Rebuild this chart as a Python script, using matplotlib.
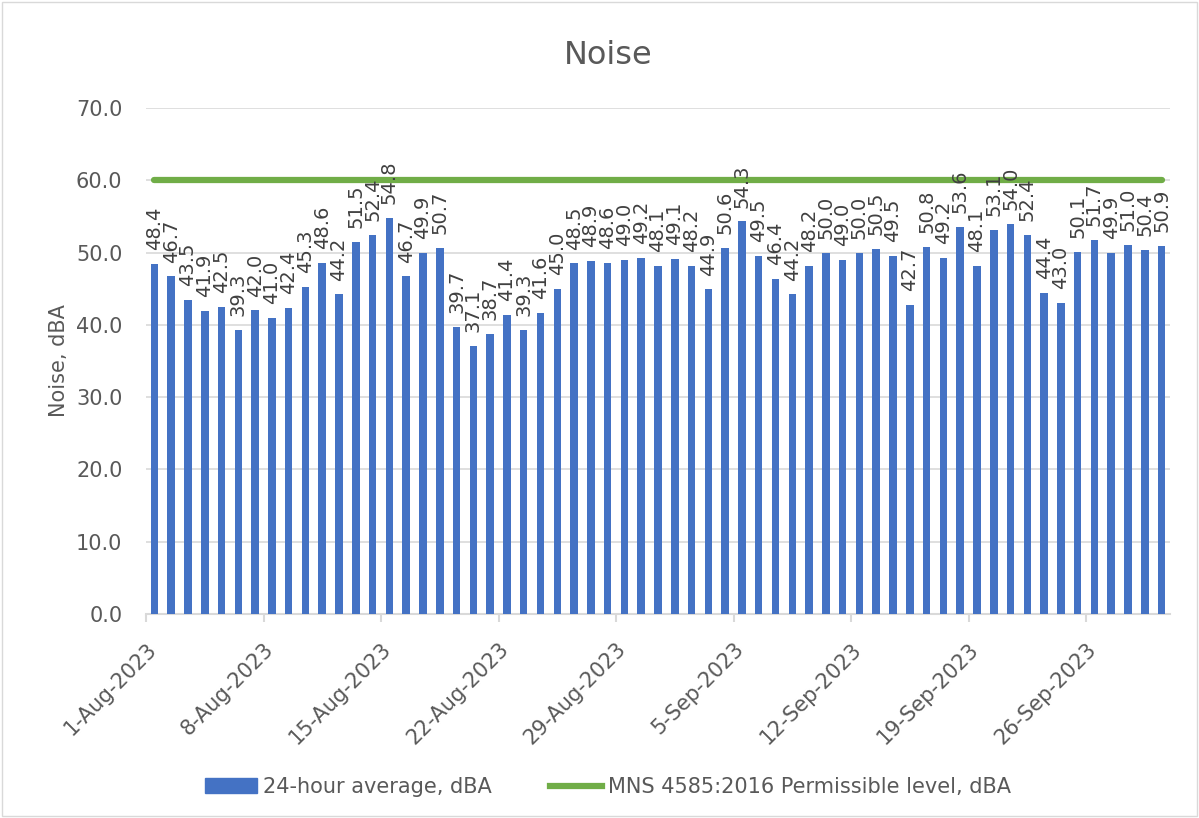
import matplotlib
matplotlib.use("Agg")
import matplotlib.pyplot as plt
import numpy as np
from matplotlib.patches import Rectangle
from matplotlib.lines import Line2D
from matplotlib.patches import Patch

aug_values = [48.4, 46.7, 43.5, 41.9, 42.5, 39.3, 42.0, 41.0, 42.4, 45.3,
              48.6, 44.2, 51.5, 52.4, 54.8, 46.7, 49.9, 50.7, 39.7, 37.1,
              38.7, 41.4, 39.3, 41.6, 45.0, 48.5, 48.9, 48.6, 49.0, 49.2, 48.1]
sep_values = [49.1, 48.2, 44.9, 50.6, 54.3, 49.5, 46.4, 44.2, 48.2, 50.0,
              49.0, 50.0, 50.5, 49.5, 42.7, 50.8, 49.2, 53.6, 48.1, 53.1,
              54.0, 52.4, 44.4, 43.0, 50.1, 51.7, 49.9, 51.0, 50.4, 50.9]
values = aug_values + sep_values
permissible = 60.0
tick_labels = ["1-Aug-2023", "8-Aug-2023", "15-Aug-2023", "22-Aug-2023",
               "29-Aug-2023", "5-Sep-2023", "12-Sep-2023", "19-Sep-2023",
               "26-Sep-2023"]
yticks = [0, 10, 20, 30, 40, 50, 60, 70]

bar_color = "#4472C4"
line_color = "#70AD47"
text_color = "#595959"

fig = plt.figure(figsize=(11.99, 8.18), dpi=100)
ax = fig.add_axes([146/1199, 1-614/818, (1170-146)/1199, (614-108)/818])

n = len(values)
x = np.arange(n) + 0.5
ax.bar(x, values, width=0.45, color=bar_color, zorder=3)
ax.plot([x[0], x[-1]], [permissible, permissible], color=line_color, lw=4.5,
        solid_capstyle="round", zorder=4)

for xi, v in zip(x, values):
    ax.annotate(f"{v:.1f}", (xi, v), xytext=(0, 10), textcoords="offset points",
                rotation=90, ha="center", va="bottom", fontsize=14,
                color="#404040", zorder=5)

ax.set_xlim(0, n)
ax.set_ylim(0, 70)
ax.set_yticks(yticks)
ax.set_yticklabels([f"{t:.1f}" for t in yticks], fontsize=15, color=text_color)
ax.set_xticks(np.arange(0, n, 7))
ax.set_xticklabels(tick_labels, rotation=45, ha="right", va="top",
                   rotation_mode="anchor", fontsize=15, color=text_color)
ax.tick_params(axis="y", length=0, pad=17)
ax.tick_params(axis="x", length=6, color="#d9d9d9", width=1.5, pad=12)
ax.grid(axis="y", color="#d9d9d9", lw=1.2, zorder=0)
for s in ["top", "right", "left"]:
    ax.spines[s].set_visible(False)
ax.spines["bottom"].set_color("#d9d9d9")
ax.spines["bottom"].set_linewidth(1.5)

ax.set_ylabel("Noise, dBA", fontsize=15, color=text_color, labelpad=5)
fig.text(608/1199, 1-55/818, "Noise", fontsize=23, color=text_color,
         ha="center", va="center")

handles = [Patch(color=bar_color, label="24-hour average, dBA"),
           Line2D([0], [0], color=line_color, lw=4.5,
                  label="MNS 4585:2016 Permissible level, dBA")]
fig.legend(handles=handles, loc="center", bbox_to_anchor=(608/1199, 1-787/818),
           ncol=2, frameon=False, fontsize=15, labelcolor=text_color,
           handlelength=2.5, handleheight=0.7, handletextpad=0.3,
           columnspacing=2.8)

fig.patches.append(Rectangle((0.002, 0.003), 0.996, 0.994, transform=fig.transFigure,
                             fill=False, edgecolor="#d9d9d9", lw=1))

fig.savefig("out.png", dpi=100)
